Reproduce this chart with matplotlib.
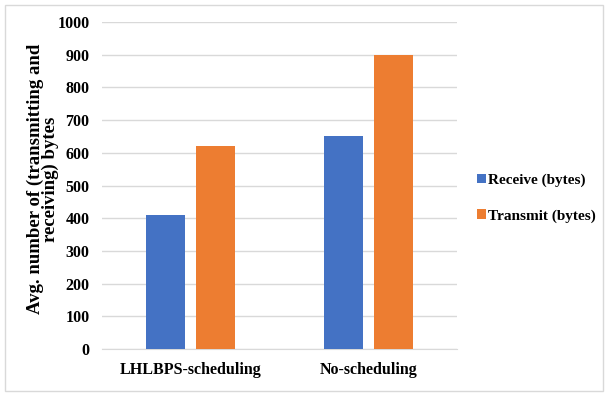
import numpy as np
import matplotlib.pyplot as plt
from matplotlib.patches import Rectangle

categories = ["LHLBPS-scheduling", "No-scheduling"]
receive = [410, 650]
transmit = [620, 900]
yticks = [0, 100, 200, 300, 400, 500, 600, 700, 800, 900, 1000]

plt.rcParams["font.family"] = ["Liberation Serif", "DejaVu Serif"]
plt.rcParams["font.weight"] = "bold"

W, H = 605, 393
fig = plt.figure(figsize=(W / 100, H / 100), dpi=100)
ax = fig.add_axes([102 / W, 1 - 349 / H, 355 / W, 327 / H])

x = np.arange(len(categories))
w = 0.22
ax.bar(x - 0.141, receive, w, color="#4472c4", label="Receive (bytes)", zorder=3)
ax.bar(x + 0.141, transmit, w, color="#ed7d31", label="Transmit (bytes)", zorder=3)

ax.set_xlim(-0.5, 1.5)
ax.set_ylim(0, 1000)
ax.set_yticks(yticks)
ax.set_xticks(x)
ax.set_xticklabels(categories, fontsize=11.5)
ax.tick_params(axis="y", labelsize=11.5, length=0, pad=9)
ax.tick_params(axis="x", length=0, pad=9)
ax.grid(axis="y", color="#d9d9d9", linewidth=1, zorder=0)
for s in ["top", "right", "left"]:
    ax.spines[s].set_visible(False)
ax.spines["bottom"].set_color("#d9d9d9")

ax.set_ylabel("Avg. number of (transmitting and\nreceiving) bytes",
              fontsize=13.5, fontweight="bold", linespacing=0.85)
ax.yaxis.set_label_coords(-0.12, 0.52)

fig.legend(loc="center left", bbox_to_anchor=(477 / W, 1 - 198 / H),
           frameon=False, fontsize=11, handlelength=0.6, handleheight=0.6,
           handletextpad=0.15, labelspacing=1.45, borderpad=0,
           borderaxespad=0)

# light border round the whole chart
fig.add_artist(Rectangle((5 / W, 2 / H), 598 / W, 386 / H,
                         transform=fig.transFigure, fill=False,
                         edgecolor="#d9d9d9", linewidth=1))

fig.savefig("out.png", dpi=100)
